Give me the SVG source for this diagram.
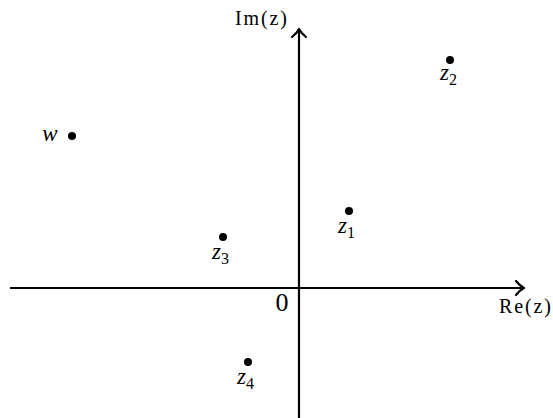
<svg xmlns="http://www.w3.org/2000/svg" width="553" height="418" viewBox="0 0 553 418" font-family="'Liberation Serif', 'DejaVu Serif', serif">
<style>
text{fill:#000}
.v{font-style:italic;font-size:23px}
.s{font-size:16px;font-style:normal}
.r{font-size:20px}
.o{font-size:26px}
.ax{stroke:#000;stroke-width:2.2;fill:none}
.ah{stroke:#000;stroke-width:2.2;fill:none;stroke-linecap:round;stroke-linejoin:round}
</style>
<rect width="553" height="418" fill="#fff"/>
<g id="connectors">
<line class="ax" x1="299" y1="418" x2="299" y2="29"/>
<path class="ah" d="M292,37 Q297,33 299,29 Q301,33 306,37"/>
<line class="ax" x1="10" y1="288" x2="524" y2="288"/>
<path class="ah" d="M516,281 Q520,286 524,288 Q520,290 516,295"/>
</g>
<g id="im"><text class="r" x="235" y="25" textLength="52" lengthAdjust="spacing">Im(z)</text></g>
<g id="re"><text class="r" x="499" y="313" textLength="52" lengthAdjust="spacing">Re(z)</text></g>
<g id="origin"><text class="o" x="282" y="311" text-anchor="middle">0</text></g>
<g id="z1"><circle cx="349" cy="211" r="4"/><text class="v" x="338" y="233">z<tspan class="s" dy="5">1</tspan></text></g>
<g id="z2"><circle cx="450" cy="60" r="4"/><text class="v" x="440" y="80">z<tspan class="s" dy="5">2</tspan></text></g>
<g id="z3"><circle cx="223" cy="237" r="4"/><text class="v" x="212" y="259">z<tspan class="s" dy="5">3</tspan></text></g>
<g id="z4"><circle cx="248" cy="362" r="4"/><text class="v" x="237" y="384">z<tspan class="s" dy="5">4</tspan></text></g>
<g id="w"><circle cx="72" cy="136" r="4"/><text class="v" x="50" y="141" text-anchor="middle">w</text></g>
</svg>
